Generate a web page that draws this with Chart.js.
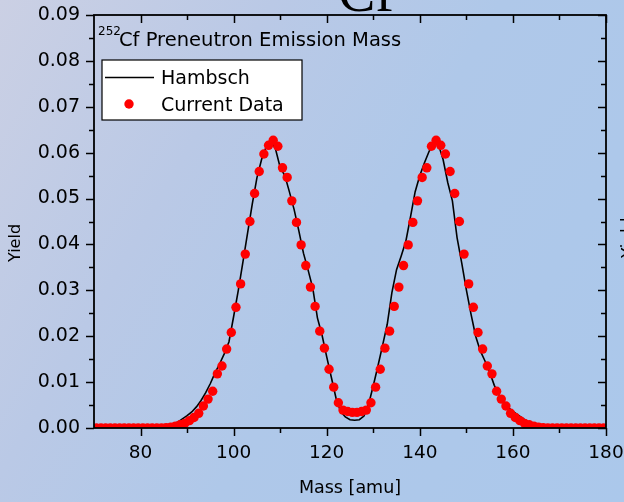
<!DOCTYPE html>
<html>
<head>
<meta charset="utf-8">
<title>252Cf Preneutron Emission Mass</title>
<script src="https://cdn.jsdelivr.net/npm/chart.js@4.4.1/dist/chart.umd.min.js"></script>
<style>
  html, body { margin: 0; padding: 0; }
  body {
    width: 624px;
    height: 502px;
    overflow: hidden;
    background: linear-gradient(120deg, #cbd0e4 0%, #bac9e6 30%, #afc8e9 55%, #abc8eb 100%);
  }
  #massChart { display: block; }
</style>
</head>
<body>
<canvas id="massChart" width="624" height="502"></canvas>
<script>
// axis ticks
const xTickLabels = [80, 100, 120, 140, 160, 180];
const xMinorTicks = [90, 110, 130, 150, 170];
const yTickLabels = [0, 0.01, 0.02, 0.03, 0.04, 0.05, 0.06, 0.07, 0.08, 0.09];
const yMinorTicks = [0.005, 0.015, 0.025, 0.035, 0.045, 0.055, 0.065, 0.075, 0.085];

// Hambsch evaluation (line)
const hambschMass = [
  70, 71, 72, 73, 74, 75, 76, 77, 78, 79,
  80, 81, 82, 83, 84, 85, 86, 87, 88, 89,
  90, 91, 92, 93, 94, 95, 96, 97, 98, 99,
  100, 101, 102, 103, 104, 105, 106, 107, 108, 109,
  110, 111, 112, 113, 114, 115, 116, 117, 118, 119,
  120, 121, 122, 123, 124, 125, 126, 127, 128, 129,
  130, 131, 132, 133, 134, 135, 136, 137, 138, 139,
  140, 141, 142, 143, 144, 145, 146, 147, 148, 149,
  150, 151, 152, 153, 154, 155, 156, 157, 158, 159,
  160, 161, 162, 163, 164, 165, 166, 167, 168, 169,
  170, 171, 172, 173, 174, 175, 176, 177, 178, 179, 180
];
const hambschYield = [
  0, 0, 0, 0, 0, 0, 0, 0, 0, 0,
  0, 0, 0, 0.0001, 0.0002, 0.0003, 0.0005, 0.0008, 0.0013, 0.0020,
  0.0027, 0.0035, 0.0046, 0.0060, 0.0077, 0.0097, 0.0120, 0.0140, 0.0162, 0.0188,
  0.0243, 0.0300, 0.0362, 0.0425, 0.0488, 0.0545, 0.0585, 0.0613, 0.0626, 0.0608,
  0.0568, 0.0550, 0.0514, 0.0476, 0.0430, 0.0381, 0.0344, 0.0305, 0.0240, 0.0202,
  0.0155, 0.0110, 0.0065, 0.0036, 0.0024, 0.0018, 0.0017, 0.0018, 0.0026, 0.0052,
  0.0092, 0.0135, 0.0180, 0.0226, 0.0295, 0.0345, 0.0375, 0.0407, 0.0460, 0.0515,
  0.0550, 0.0578, 0.0603, 0.0621, 0.0618, 0.0585, 0.0535, 0.0495, 0.0415, 0.0360,
  0.0301, 0.0248, 0.0200, 0.0168, 0.0146, 0.0122, 0.0093, 0.0072, 0.0057, 0.0045,
  0.0036, 0.0029, 0.0022, 0.0015, 0.0010, 0.0006, 0.0004, 0.0002, 0.0001, 0,
  0, 0, 0, 0, 0, 0, 0, 0, 0, 0, 0
];

// measured yields (points)
const currentMass = [
  70.5, 71.5, 72.5, 73.5, 74.5, 75.5, 76.5, 77.5, 78.5, 79.5,
  80.5, 81.5, 82.5, 83.5, 84.5, 85.5, 86.5, 87.5, 88.5, 89.5,
  90.5, 91.5, 92.5, 93.5, 94.5, 95.5, 96.5, 97.5, 98.5, 99.5,
  100.5, 101.5, 102.5, 103.5, 104.5, 105.5, 106.5, 107.5, 108.5, 109.5,
  110.5, 111.5, 112.5, 113.5, 114.5, 115.5, 116.5, 117.5, 118.5, 119.5,
  120.5, 121.5, 122.5, 123.5, 124.5, 125.5, 126.5, 127.5, 128.5, 129.5,
  130.5, 131.5, 132.5, 133.5, 134.5, 135.5, 136.5, 137.5, 138.5, 139.5,
  140.5, 141.5, 142.5, 143.5, 144.5, 145.5, 146.5, 147.5, 148.5, 149.5,
  150.5, 151.5, 152.5, 153.5, 154.5, 155.5, 156.5, 157.5, 158.5, 159.5,
  160.5, 161.5, 162.5, 163.5, 164.5, 165.5, 166.5, 167.5, 168.5, 169.5,
  170.5, 171.5, 172.5, 173.5, 174.5, 175.5, 176.5, 177.5, 178.5, 179.5
];
const currentYield = [
  0.00001, 0.00001, 0.00001, 0.00001, 0.00001, 0.00001, 0.00001, 0.00001, 0.00001, 0.00001,
  0.00001, 0.00001, 0.00001, 0.00001, 0.00003, 0.00008, 0.00018, 0.0004, 0.0007, 0.0010,
  0.0016, 0.0023, 0.0032, 0.0048, 0.0063, 0.0080, 0.0118, 0.0135, 0.0172, 0.0208,
  0.0263, 0.0314, 0.0379, 0.0450, 0.0511, 0.0559, 0.0597, 0.0616, 0.0627, 0.0614,
  0.0567, 0.0546, 0.0495, 0.0448, 0.0399, 0.0354, 0.0307, 0.0265, 0.0211, 0.0174,
  0.0128, 0.0089, 0.0055, 0.0039, 0.0036, 0.0034, 0.0034, 0.0036, 0.0039, 0.0055,
  0.0089, 0.0128, 0.0174, 0.0211, 0.0265, 0.0307, 0.0354, 0.0399, 0.0448, 0.0495,
  0.0546, 0.0567, 0.0614, 0.0627, 0.0616, 0.0597, 0.0559, 0.0511, 0.0450, 0.0379,
  0.0314, 0.0263, 0.0208, 0.0172, 0.0135, 0.0118, 0.0080, 0.0063, 0.0048, 0.0032,
  0.0023, 0.0016, 0.0010, 0.0007, 0.0004, 0.00018, 0.00008, 0.00003, 0.00001, 0.00001,
  0.00001, 0.00001, 0.00001, 0.00001, 0.00001, 0.00001, 0.00001, 0.00001, 0.00001, 0.00001
];

const FONT = "'DejaVu Sans', sans-serif";

// frame, inward/outward ticks, titles and the legend box
const decorPlugin = {
  id: "decor",
  afterDraw(chart) {
    const { ctx, chartArea: a, scales } = chart;
    const x = scales.x;
    const y = scales.y;
    ctx.save();

    // ticks
    ctx.strokeStyle = "#000";
    ctx.lineWidth = 1.5;
    ctx.beginPath();
    xTickLabels.forEach((v) => {
      const px = Math.round(x.getPixelForValue(v)) + 0.5;
      ctx.moveTo(px, a.bottom); ctx.lineTo(px, a.bottom + 8);
      ctx.moveTo(px, a.top); ctx.lineTo(px, a.top + 8);
    });
    xMinorTicks.forEach((v) => {
      const px = Math.round(x.getPixelForValue(v)) + 0.5;
      ctx.moveTo(px, a.bottom); ctx.lineTo(px, a.bottom + 5);
      ctx.moveTo(px, a.top); ctx.lineTo(px, a.top + 5);
    });
    yTickLabels.forEach((v) => {
      const py = Math.round(y.getPixelForValue(v)) + 0.5;
      ctx.moveTo(a.left - 8, py); ctx.lineTo(a.left, py);
      ctx.moveTo(a.right - 8, py); ctx.lineTo(a.right, py);
    });
    yMinorTicks.forEach((v) => {
      const py = Math.round(y.getPixelForValue(v)) + 0.5;
      ctx.moveTo(a.left - 5, py); ctx.lineTo(a.left, py);
      ctx.moveTo(a.right - 5, py); ctx.lineTo(a.right, py);
    });
    ctx.stroke();

    // frame
    ctx.lineWidth = 1.8;
    ctx.strokeRect(a.left, a.top, a.right - a.left, a.bottom - a.top);

    // axis titles
    ctx.fillStyle = "#000";
    ctx.font = "17.5px " + FONT;
    ctx.textAlign = "center";
    ctx.textBaseline = "alphabetic";
    ctx.fillText("Mass [amu]", (a.left + a.right) / 2, 493);

    ctx.save();
    ctx.translate(20, 243);
    ctx.rotate(-Math.PI / 2);
    ctx.font = "16px " + FONT;
    ctx.fillText("Yield", 0, 0);
    ctx.restore();

    // plot title with superscript
    ctx.textAlign = "left";
    ctx.font = "12px " + FONT;
    ctx.fillText("252", 98, 35);
    ctx.font = "19.5px " + FONT;
    ctx.fillText("Cf Preneutron Emission Mass", 119, 46);

    // legend
    ctx.fillStyle = "#fff";
    ctx.fillRect(102, 60, 200, 60);
    ctx.lineWidth = 1.2;
    ctx.strokeStyle = "#000";
    ctx.strokeRect(102, 60, 200, 60);

    const [lineSet, dotSet] = chart.data.datasets;
    ctx.strokeStyle = lineSet.borderColor;
    ctx.lineWidth = lineSet.borderWidth;
    ctx.beginPath();
    ctx.moveTo(105, 77.5);
    ctx.lineTo(154, 77.5);
    ctx.stroke();

    ctx.fillStyle = dotSet.backgroundColor;
    ctx.beginPath();
    ctx.arc(129, 104, dotSet.pointRadius, 0, Math.PI * 2);
    ctx.fill();

    ctx.fillStyle = "#000";
    ctx.font = "19px " + FONT;
    ctx.fillText(lineSet.label, 161, 84);
    ctx.fillText(dotSet.label, 161, 111);

    // slide heading above the frame and neighbouring axis label at the edge
    ctx.font = "56px 'Liberation Serif', serif";
    ctx.fillText("Cf", 338, 11);

    ctx.save();
    ctx.translate(621, 258);
    ctx.rotate(-Math.PI / 2);
    ctx.textBaseline = "top";
    ctx.font = "17px " + FONT;
    ctx.fillText("Yield", 0, 0);
    ctx.restore();

    ctx.restore();
  }
};

new Chart(document.getElementById("massChart"), {
  type: "scatter",
  data: {
    datasets: [
      {
        label: "Hambsch",
        data: hambschMass.map((m, i) => ({ x: m, y: hambschYield[i] })),
        showLine: true,
        borderColor: "#000",
        borderWidth: 1.6,
        pointRadius: 0,
        tension: 0,
        order: 2
      },
      {
        label: "Current Data",
        data: currentMass.map((m, i) => ({ x: m, y: currentYield[i] })),
        showLine: false,
        backgroundColor: "#ff0000",
        borderWidth: 0,
        pointRadius: 4.7,
        pointHoverRadius: 4.7,
        order: 1
      }
    ]
  },
  options: {
    responsive: false,
    animation: false,
    devicePixelRatio: 1,
    layout: { padding: { top: 15, right: 18, left: 0, bottom: 0 } },
    plugins: {
      legend: { display: false },
      tooltip: { enabled: false }
    },
    scales: {
      x: {
        type: "linear",
        min: 70,
        max: 180,
        grid: { display: false, drawTicks: false },
        border: { display: false },
        afterBuildTicks: (s) => { s.ticks = xTickLabels.map((v) => ({ value: v })); },
        afterFit: (s) => {
          s.height = 74;
          s.paddingLeft = 0;
          s.paddingRight = 0;
        },
        ticks: {
          autoSkip: false,
          maxRotation: 0,
          padding: 14,
          color: "#000",
          font: { family: FONT, size: 18.5 },
          callback: (v) => String(v)
        }
      },
      y: {
        type: "linear",
        min: 0,
        max: 0.09,
        grid: { display: false, drawTicks: false },
        border: { display: false },
        afterBuildTicks: (s) => { s.ticks = yTickLabels.map((v) => ({ value: v })); },
        afterFit: (s) => {
          s.width = 94;
          s.paddingTop = 0;
          s.paddingBottom = 0;
        },
        ticks: {
          padding: 14,
          color: "#000",
          font: { family: FONT, size: 19 },
          callback: (v) => Number(v).toFixed(2)
        }
      }
    }
  },
  plugins: [decorPlugin]
});
</script>
</body>
</html>
